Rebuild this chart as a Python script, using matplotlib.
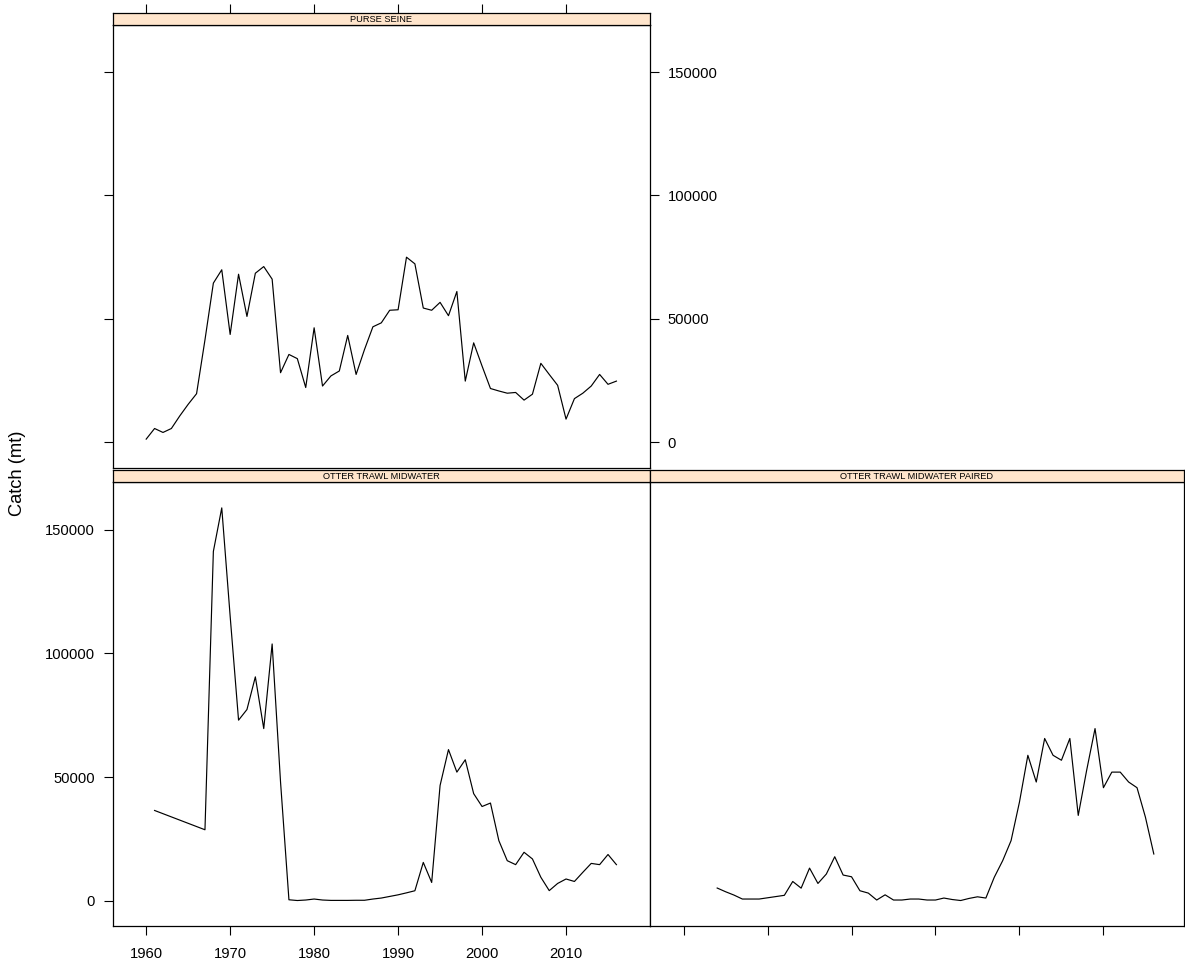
import matplotlib
matplotlib.use("Agg")
import matplotlib.pyplot as plt
import numpy as np

plt.rcParams['font.family'] = ['Liberation Sans', 'DejaVu Sans']

# Annual catch (mt) by gear type
purse_years = list(range(1960, 2017))
purse_catch = [1300, 5600, 4000, 5600, 10700, 15400, 19700, 41500, 64500, 69900,
               43700, 68100, 51000, 68500, 71200, 66100, 28200, 35600, 33900, 22200,
               46400, 22800, 26900, 28900, 43300, 27500, 37600, 46800, 48400, 53500,
               53700, 75000, 72300, 54400, 53500, 56700, 51300, 61100, 24800, 40300,
               30900, 21800, 20800, 19900, 20200, 17100, 19500, 32000, 27500, 23100,
               9400, 17700, 19900, 22800, 27500, 23500, 24800]

otm_years = [1961] + list(range(1967, 2017))
otm_catch = [36500, 28700, 141200, 158800, 115000, 73000, 77300, 90500, 69600, 103800,
             48000, 400, 100, 300, 700, 300, 150, 150, 150, 200,
             200, 700, 1100, 1750, 2400, 3200, 4050, 15500, 7400, 46600,
             61100, 52000, 57000, 43300, 38100, 39500, 24300, 16200, 14600, 19600,
             16900, 9500, 4100, 7000, 8800, 7800, 11500, 15100, 14600, 18700, 14600]

paired_years = list(range(1964, 2017))
paired_catch = [5150, 3650, 2300, 700, 700, 700, 1200, 1700, 2200, 7800,
                5100, 13200, 7000, 10800, 17800, 10400, 9700, 4050, 3100, 300,
                2400, 300, 300, 700, 700, 300, 300, 1100, 500, 100,
                950, 1600, 1100, 9500, 16200, 24300, 39900, 58800, 48000, 65600,
                58800, 56800, 65600, 34500, 52700, 69600, 45700, 52000, 52000, 48000,
                45700, 33800, 18900]

panel_titles = ["PURSE SEINE", "OTTER TRAWL MIDWATER", "OTTER TRAWL MIDWATER PAIRED"]
x_ticks = [1960, 1970, 1980, 1990, 2000, 2010]
y_ticks = [0, 50000, 100000, 150000]
y_label = "Catch (mt)"

W, H = 1185, 967
fig = plt.figure(figsize=(W / 100, H / 100), dpi=100)


def rect(left, top, right, bottom):
    return [left / W, 1 - bottom / H, (right - left) / W, (bottom - top) / H]


STRIP_BG = "#FFE5CC"
XLIM = (1956.0, 2020.0)
PX_PER_YEAR = (650 - 112.6) / (XLIM[1] - XLIM[0])
YLIM = (-10200, 169265)
TICK_LEN = 6.3
TICK_W = 0.8
TICK_FS = 10.6


def make_panel(left, top_strip, top, right, bottom, title, xlim):
    ax = fig.add_axes(rect(left, top, right, bottom))
    st = fig.add_axes(rect(left, top_strip, right, top))
    for a in (ax, st):
        for s in a.spines.values():
            s.set_color("black")
            s.set_linewidth(0.9)
    st.set_facecolor(STRIP_BG)
    st.set_xlim(xlim)
    st.set_ylim(0, 1)
    st.set_yticks([])
    st.set_xticks([])
    st.text(0.5, 0.45, title, transform=st.transAxes, ha="center", va="center",
            fontsize=6.7, color="black")
    ax.set_xlim(xlim)
    ax.set_ylim(YLIM)
    ax.tick_params(direction="out", length=TICK_LEN, width=TICK_W, colors="black",
                   labelsize=TICK_FS, labelcolor="black")
    return ax, st


# top-left: purse seine
ax1, st1 = make_panel(112.6, 12.5, 24.5, 650, 467.5, panel_titles[0], XLIM)
ax1.plot(purse_years, purse_catch, color="black", lw=0.85)
ax1.set_xticks([])
ax1.set_yticks(y_ticks)
ax1.tick_params(axis="y", left=True, right=True, labelleft=False, labelright=True, pad=6.5)
st1.set_xticks(x_ticks)
st1.tick_params(axis="x", direction="out", top=True, bottom=False, labeltop=False,
                labelbottom=False, length=TICK_LEN + 0.5, width=TICK_W, colors="black")

# bottom-left: otter trawl midwater
ax2, st2 = make_panel(112.6, 469.5, 482, 650, 926, panel_titles[1], XLIM)
ax2.plot(otm_years, otm_catch, color="black", lw=0.85)
ax2.set_xticks(x_ticks)
ax2.set_xticklabels([str(t) for t in x_ticks])
ax2.set_yticks(y_ticks)
ax2.tick_params(axis="y", left=True, right=False, labelleft=True, pad=6.5)
ax2.tick_params(axis="x", bottom=True, top=False, labelbottom=True, pad=9)

# bottom-right: otter trawl midwater paired
xlim_r = (XLIM[0], XLIM[0] + (1184 - 650) / PX_PER_YEAR)
ax3, st3 = make_panel(650, 469.5, 482, 1184, 926, panel_titles[2], xlim_r)
ax3.plot(paired_years, paired_catch, color="black", lw=0.85)
ax3.set_xticks(x_ticks)
ax3.tick_params(axis="x", bottom=True, labelbottom=False)
ax3.set_yticks([])

fig.text(18 / W, 1 - 473 / H, y_label, rotation=90, ha="center", va="center",
         fontsize=13.2, color="black")

fig.savefig("out.png", dpi=100, facecolor="white")
